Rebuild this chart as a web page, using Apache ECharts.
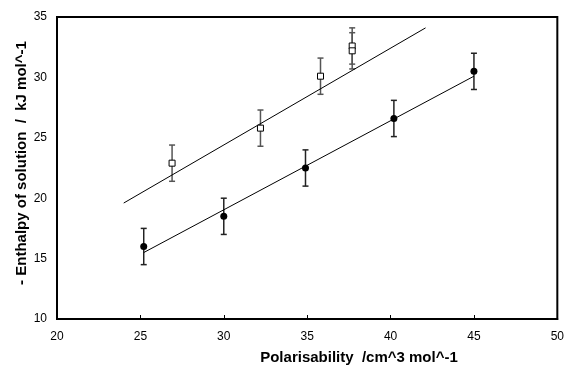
<!DOCTYPE html>
<html><head><meta charset="utf-8">
<script src="https://cdn.jsdelivr.net/npm/echarts@6/dist/echarts.min.js"></script>
<style>html,body{margin:0;padding:0;background:#fff}#c{width:567px;height:365px}</style>
</head><body><div id="c"></div>
<script>
// Filled circles: x, y, error
const circleX = [25.2, 30.0, 34.9, 40.2, 45.0];
const circleY = [16.0, 18.5, 22.5, 26.6, 30.5];
const circleErr = [1.5, 1.5, 1.5, 1.5, 1.5];
// Open squares
const squareX = [26.9, 32.2, 35.8, 37.7, 37.7];
const squareY = [22.9, 25.8, 30.1, 32.6, 32.2];
const squareErr = [1.5, 1.5, 1.5, 1.5, 1.5];
// Fit lines (endpoints)
const upperFit = [[24.0, 19.6], [42.1, 34.1]];
const lowerFit = [[25.2, 15.5], [45.0, 30.1]];
const xTicks = [20, 25, 30, 35, 40, 45, 50];
const yTicks = [10, 15, 20, 25, 30, 35];

const chart = echarts.init(document.getElementById('c'));
function errSeries(xs, ys, es, color) {
  return {
    type: 'custom', z: 1,
    data: xs.map((x, i) => [x, ys[i] - es[i], ys[i] + es[i]]),
    renderItem: function (params, api) {
      const lo = api.coord([api.value(0), api.value(1)]);
      const hi = api.coord([api.value(0), api.value(2)]);
      const w = 3;
      const st = { stroke: color, lineWidth: 1.5 };
      return { type: 'group', children: [
        { type: 'line', shape: { x1: lo[0], y1: lo[1], x2: hi[0], y2: hi[1] }, style: st },
        { type: 'line', shape: { x1: lo[0] - w, y1: lo[1], x2: lo[0] + w, y2: lo[1] }, style: st },
        { type: 'line', shape: { x1: hi[0] - w, y1: hi[1], x2: hi[0] + w, y2: hi[1] }, style: st }
      ]};
    }
  };
}
chart.setOption({
  animation: false,
  grid: { left: 57, right: 6, top: 17, bottom: 46, show: true, borderColor: '#000', borderWidth: 2 },
  xAxis: {
    type: 'value', min: 20, max: 50, interval: 5,
    axisLine: { lineStyle: { color: '#000', width: 2 } },
    axisTick: { inside: true, length: 4, lineStyle: { color: '#000' } },
    axisLabel: { color: '#000', fontFamily: 'Liberation Sans', fontSize: 12, margin: 12,
      formatter: v => xTicks.includes(v) ? String(v) : '' },
    splitLine: { show: false }
  },
  yAxis: {
    type: 'value', min: 10, max: 35, interval: 5,
    axisLine: { lineStyle: { color: '#000', width: 2 } },
    axisTick: { show: false },
    axisLabel: { color: '#000', fontFamily: 'Liberation Sans', fontSize: 12, margin: 10,
      formatter: v => yTicks.includes(v) ? String(v) : '' },
    splitLine: { show: false }
  },
  graphic: [
    { type: 'text', x: 359, y: 358, style: { text: 'Polarisability  /cm^3 mol^-1', font: 'bold 15px "Liberation Sans"', fill: '#000', textAlign: 'center', textVerticalAlign: 'middle' } },
    { type: 'text', rotation: Math.PI / 2, x: 22, y: 163, style: { text: '- Enthalpy of solution  /  kJ mol^-1', font: 'bold 15px "Liberation Sans"', fill: '#000', textAlign: 'center', textVerticalAlign: 'middle' } }
  ],
  series: [
    { type: 'line', data: upperFit, symbol: 'none', lineStyle: { color: '#000', width: 1 }, z: 2 },
    { type: 'line', data: lowerFit, symbol: 'none', lineStyle: { color: '#000', width: 1 }, z: 2 },
    errSeries(squareX, squareY, squareErr, '#555'),
    errSeries(circleX, circleY, circleErr, '#222'),
    { type: 'scatter', data: squareX.map((x, i) => [x, squareY[i]]), symbol: 'rect', symbolSize: 6,
      itemStyle: { color: '#fff', borderColor: '#000', borderWidth: 1, opacity: 1 }, z: 5 },
    { type: 'scatter', data: circleX.map((x, i) => [x, circleY[i]]), symbol: 'circle', symbolSize: 7,
      itemStyle: { color: '#000', opacity: 1 }, z: 5 }
  ]
});
</script></body></html>
